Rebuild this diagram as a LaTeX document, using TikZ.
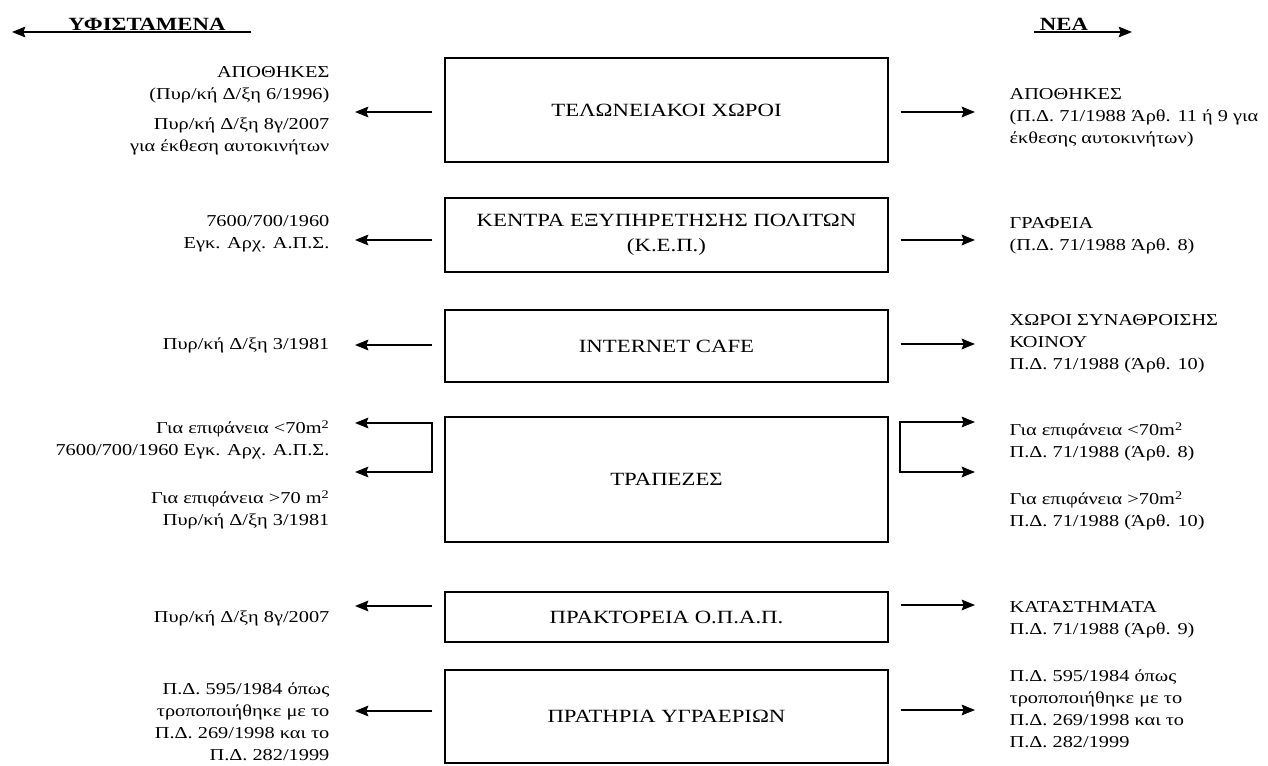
\documentclass[tikz,border=0pt]{standalone}
\usepackage{fontspec}
\setmainfont{Liberation Serif}[FakeStretch=1.22]
\usetikzlibrary{arrows.meta}

\begin{document}
\begin{tikzpicture}[x=0.75pt,y=-0.75pt]
\useasboundingbox (0,0) rectangle (1268,766);

% headings
\begin{scope}[every node/.style={anchor=south,inner sep=1pt,font=\bfseries\fontsize{14}{16}\selectfont}]
    \node (old) at (147,32) {ΥΦΙΣΤΑΜΕΝΑ};
    \node (new) at (1064,32) {ΝΕΑ};
\end{scope}
\coordinate (oldtip) at (12,32);
\coordinate (newtip) at (1132,32);

% categories
\begin{scope}[every node/.style={draw,line width=1.1pt,minimum width=332pt,align=center,
              font=\fontsize{14}{19}\selectfont}]
    \node[minimum height=78pt] (1) at (666.5,110) {ΤΕΛΩΝΕΙΑΚΟΙ ΧΩΡΟΙ};
    \node[minimum height=55.5pt] (2) at (666.5,235) {ΚΕΝΤΡΑ ΕΞΥΠΗΡΕΤΗΣΗΣ ΠΟΛΙΤΩΝ\\(Κ.Ε.Π.)};
    \node[minimum height=54pt] (3) at (666.5,346) {INTERNET CAFE};
    \node[minimum height=93.75pt] (4) at (666.5,479.5) {ΤΡΑΠΕΖΕΣ};
    \node[minimum height=37.5pt] (5) at (666.5,617) {ΠΡΑΚΤΟΡΕΙΑ Ο.Π.Α.Π.};
    \node[minimum height=70pt] (6) at (666.5,716.5) {ΠΡΑΤΗΡΙΑ ΥΓΡΑΕΡΙΩΝ};
\end{scope}

% existing (left)
\begin{scope}[every node/.style={anchor=east,align=right,inner sep=1pt,
              font=\fontsize{12.5}{16.5}\selectfont}]
    \node (y1) at (331,111) {ΑΠΟΘΗΚΕΣ\\(Πυρ/κή Δ/ξη 6/1996)\\[6pt]Πυρ/κή Δ/ξη 8γ/2007\\για έκθεση αυτοκινήτων};
    \node (y2) at (331,234) {7600/700/1960\\Εγκ. Αρχ. Α.Π.Σ.};
    \node (y3) at (331,345) {Πυρ/κή Δ/ξη 3/1981};
    \node (y4a) at (331,440) {Για επιφάνεια <70m\textsuperscript{2}\\7600/700/1960 Εγκ. Αρχ. Α.Π.Σ.};
    \node (y4b) at (331,510) {Για επιφάνεια >70 m\textsuperscript{2}\\Πυρ/κή Δ/ξη 3/1981};
    \node (y5) at (331,618) {Πυρ/κή Δ/ξη 8γ/2007};
    \node (y6) at (331,722) {Π.Δ. 595/1984 όπως\\τροποποιήθηκε με το\\Π.Δ. 269/1998 και το\\Π.Δ. 282/1999};
\end{scope}

% new (right)
\begin{scope}[every node/.style={anchor=west,align=left,inner sep=1pt,
              font=\fontsize{12.5}{16.5}\selectfont}]
    \node (n1) at (1008,118) {ΑΠΟΘΗΚΕΣ\\(Π.Δ. 71/1988 Άρθ. 11 ή 9 για\\έκθεσης αυτοκινήτων)};
    \node (n2) at (1008,236) {ΓΡΑΦΕΙΑ\\(Π.Δ. 71/1988 Άρθ. 8)};
    \node (n3) at (1008,344) {ΧΩΡΟΙ ΣΥΝΑΘΡΟΙΣΗΣ\\ΚΟΙΝΟΥ\\Π.Δ. 71/1988 (Άρθ. 10)};
    \node (n4a) at (1008,442) {Για επιφάνεια <70m\textsuperscript{2}\\Π.Δ. 71/1988 (Άρθ. 8)};
    \node (n4b) at (1008,511) {Για επιφάνεια >70m\textsuperscript{2}\\Π.Δ. 71/1988 (Άρθ. 10)};
    \node (n5) at (1008,620) {ΚΑΤΑΣΤΗΜΑΤΑ\\Π.Δ. 71/1988 (Άρθ. 9)};
    \node (n6) at (1008,709) {Π.Δ. 595/1984 όπως\\τροποποιήθηκε με το\\Π.Δ. 269/1998 και το\\Π.Δ. 282/1999};
\end{scope}

% arrow tips
\coordinate (ya1) at (355,112);
\coordinate (ya2) at (355,240);
\coordinate (ya3) at (355,345);
\coordinate (ya4a) at (355,423);
\coordinate (ya4b) at (355,472);
\coordinate (ya5) at (355,606);
\coordinate (ya6) at (355,711);
\coordinate (na1) at (975,112);
\coordinate (na2) at (975,240);
\coordinate (na3) at (975,344);
\coordinate (na4a) at (975,422);
\coordinate (na4b) at (975,472);
\coordinate (na5) at (975,605);
\coordinate (na6) at (975,710);

\begin{scope}[>={Stealth[black,length=10pt,width=8pt,inset=1.5pt]},
              every edge/.style={draw,line width=1.1pt,shorten <=9pt}]
    \path [->] (1.west |- ya1) edge (ya1);
    \path [->] (2.west |- ya2) edge (ya2);
    \path [->] (3.west |- ya3) edge (ya3);
    \path [->] (5.west |- ya5) edge (ya5);
    \path [->] (6.west |- ya6) edge (ya6);
    \path [->] (1.east |- na1) edge (na1);
    \path [->] (2.east |- na2) edge (na2);
    \path [->] (3.east |- na3) edge (na3);
    \path [->] (5.east |- na5) edge (na5);
    \path [->] (6.east |- na6) edge (na6);
    \draw [<->,line width=1.1pt] (ya4a) -- ++(77,0) |- (ya4b);
    \draw [<->,line width=1.1pt] (na4a) -- ++(-75,0) |- (na4b);
    \draw [->,line width=1.1pt] ([xshift=18pt]old.south east) -- (oldtip);
    \draw [->,line width=1.1pt] ([xshift=-3pt]new.south west) -- (newtip);
\end{scope}
\end{tikzpicture}
\end{document}
